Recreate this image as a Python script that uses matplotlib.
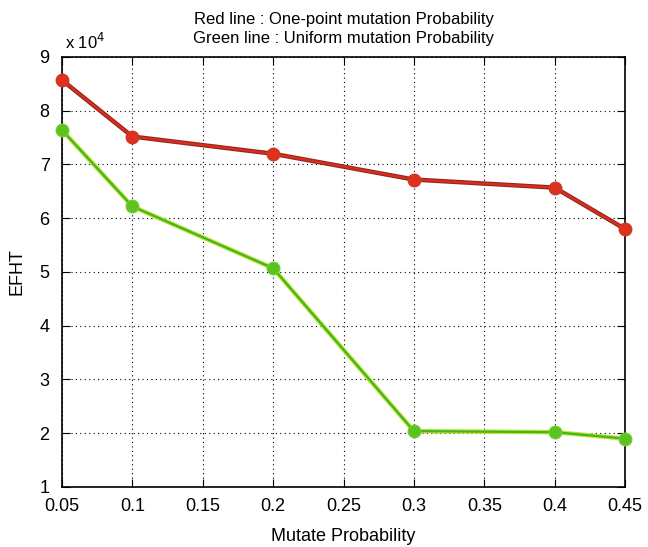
import numpy as np
import matplotlib.pyplot as plt

plt.rcParams['font.family'] = ['Liberation Sans', 'DejaVu Sans']

mutate_prob = [0.05, 0.1, 0.2, 0.3, 0.4, 0.45]
one_point = [8.57, 7.52, 7.2, 6.72, 6.57, 5.8]
uniform = [7.64, 6.22, 5.07, 2.04, 2.02, 1.9]

xticks = [0.05, 0.1, 0.15, 0.2, 0.25, 0.3, 0.35, 0.4, 0.45]
xticklabels = ['0.05', '0.1', '0.15', '0.2', '0.25', '0.3', '0.35', '0.4', '0.45']
yticks = [1, 2, 3, 4, 5, 6, 7, 8, 9]

fig = plt.figure(figsize=(6.48, 5.47), dpi=100)
ax = fig.add_axes([0.0957, 0.1097, 0.8688, 0.7861])

# red: one-point mutation
ax.plot(mutate_prob, one_point, '-', color='#8a2a20', lw=3.2, zorder=3)
ax.plot(mutate_prob, one_point, '-', color='#e02a1a', lw=1.6, zorder=3)
ax.plot(mutate_prob, one_point, 'o', color='#e0301e', ms=9, mec='#c83a28', zorder=4, clip_on=False)

# green: uniform mutation
ax.plot(mutate_prob, uniform, '-', color='#c8e030', lw=3.2, zorder=3)
ax.plot(mutate_prob, uniform, '-', color='#3cb820', lw=1.6, zorder=3)
ax.plot(mutate_prob, uniform, 'o', color='#5cc21e', ms=9, mec='#6ccc30', zorder=4, clip_on=False)

ax.set_xlim(0.05, 0.45)
ax.set_ylim(1, 9)
ax.set_xticks(xticks)
ax.set_xticklabels(xticklabels)
ax.set_yticks(yticks)
ax.grid(True, linestyle=(0, (1, 3)), color='black', lw=0.8)
ax.tick_params(direction='in', length=6, labelsize=13, top=True, right=True)
ax.tick_params(axis='x', pad=8)
ax.tick_params(axis='y', pad=9)
for s in ax.spines.values():
    s.set_linewidth(1.2)

ax.set_xlabel('Mutate Probability', fontsize=13, labelpad=9)
ax.set_ylabel('EFHT', fontsize=13, labelpad=10)
ax.set_title('Red line : One-point mutation Probability\nGreen line : Uniform mutation Probability',
             fontsize=12, pad=10, linespacing=1.35)
ax.text(0.005, 1.012, r'x 10$^4$', transform=ax.transAxes, fontsize=12, va='bottom', ha='left')

fig.savefig('out.png', dpi=100)
